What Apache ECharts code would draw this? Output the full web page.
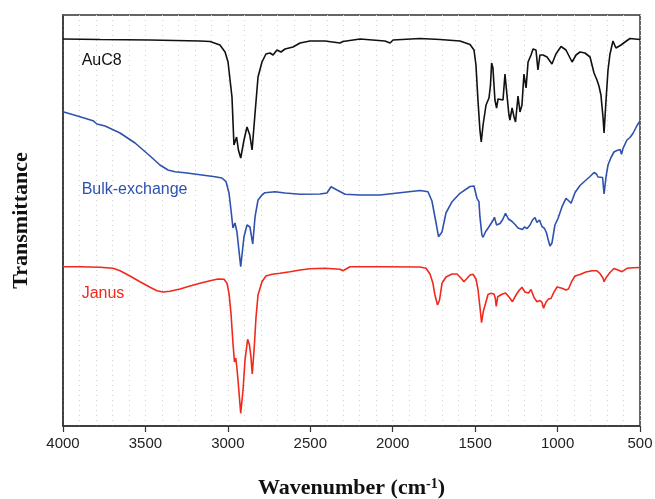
<!DOCTYPE html>
<html>
<head>
<meta charset="utf-8">
<script src="https://cdn.jsdelivr.net/npm/echarts@6/dist/echarts.min.js"></script>
<style>
  html, body { margin: 0; padding: 0; background: #fff; }
  #chart { width: 655px; height: 499px; }
</style>
</head>
<body>
<div id="chart"></div>
<script>
// IR spectra, transmittance in arbitrary offset units (curves stacked)
const xTicks = [4000, 3500, 3000, 2500, 2000, 1500, 1000, 500];

const auc8Wn = [4000, 3776, 3472, 3169, 3108, 3048, 3017, 2999, 2975, 2963, 2947, 2936, 2922, 2902, 2884, 2867, 2853, 2835, 2817, 2793, 2769, 2744, 2726, 2702, 2678, 2653, 2605, 2562, 2502, 2411, 2320, 2302, 2198, 2047, 2016, 1998, 1834, 1713, 1592, 1531, 1507, 1495, 1483, 1471, 1463, 1452, 1434, 1416, 1407, 1400, 1392, 1380, 1370, 1361, 1349, 1331, 1319, 1307, 1295, 1289, 1276, 1264, 1255, 1240, 1228, 1216, 1204, 1191, 1179, 1161, 1149, 1131, 1119, 1107, 1088, 1064, 1034, 1010, 979, 949, 912, 888, 864, 834, 803, 779, 761, 749, 737, 724, 718, 706, 694, 682, 664, 646, 634, 615, 591, 561, 500];
const auc8T = [387, 386.5, 386, 385, 384.5, 381, 374, 364, 329, 281, 289, 276, 268, 286, 299, 291, 276, 313, 349, 364, 372, 373, 371, 376, 374, 377, 379, 383, 385, 385, 383, 384.5, 387, 385, 383, 386, 387.5, 386.5, 385, 381.5, 376, 361, 326, 296, 284, 301, 321, 328, 341, 363, 358, 326, 318, 327, 329, 326, 352, 331, 311, 306, 318, 309, 304, 330, 314, 321, 352, 338, 364, 371, 377, 376, 356, 371, 371, 369, 362, 372, 379.5, 376, 364, 371, 374, 373, 369, 353, 346, 340, 331, 308, 293, 326, 356, 372, 385, 378, 376, 381, 384, 387.5, 386.5];

const bulkWn = [4000, 3897, 3818, 3794, 3745, 3654, 3563, 3472, 3412, 3363, 3321, 3260, 3169, 3078, 3036, 3011, 2993, 2981, 2969, 2957, 2945, 2933, 2922, 2911, 2902, 2884, 2866, 2849, 2835, 2817, 2793, 2775, 2714, 2653, 2562, 2441, 2399, 2374, 2362, 2338, 2289, 2198, 2077, 1956, 1834, 1786, 1762, 1737, 1722, 1713, 1701, 1677, 1640, 1592, 1531, 1507, 1495, 1489, 1477, 1471, 1459, 1452, 1437, 1422, 1410, 1392, 1383, 1370, 1349, 1331, 1316, 1298, 1276, 1258, 1240, 1228, 1213, 1201, 1185, 1167, 1152, 1137, 1125, 1110, 1094, 1079, 1067, 1058, 1046, 1034, 1016, 997, 973, 949, 931, 918, 894, 864, 834, 803, 779, 764, 755, 743, 727, 718, 706, 694, 676, 658, 640, 621, 612, 603, 579, 561, 543, 531, 518, 500];
const bulkT = [314.3, 309.3, 305.3, 302, 300, 293, 283, 270, 261, 256, 254.3, 253.3, 251.3, 249.3, 248, 244.3, 233, 216, 198, 203, 194.3, 176, 159.3, 176, 189.3, 201, 199, 182, 209.3, 226, 231, 233.3, 234.3, 233, 231.7, 232, 233, 239.3, 238, 236, 231.7, 231, 231, 233.3, 235.5, 234.3, 225, 203, 189.3, 187.7, 194, 213, 224.3, 232.7, 239.5, 240, 238, 227.7, 224.3, 209.3, 191, 188.7, 194.3, 197.7, 196, 205.5, 208.7, 201, 202.5, 207, 212.7, 207, 204.5, 201.5, 198, 200, 196.5, 199, 197.5, 201, 206, 208.5, 203.5, 206, 199.3, 197.5, 193, 187, 180, 183, 201, 207.7, 219.3, 227.7, 225, 222.7, 233.5, 240.5, 245, 249.5, 253.5, 252, 249, 247, 248.5, 232, 249.3, 261, 268.5, 274, 275.5, 276.5, 271.7, 277.7, 286, 288.5, 292.5, 290.5, 300.5, 305];

const janusWn = [4000, 3897, 3776, 3697, 3654, 3594, 3533, 3472, 3430, 3393, 3351, 3290, 3230, 3169, 3108, 3060, 3023, 3005, 2993, 2981, 2969, 2960, 2952, 2945, 2936, 2922, 2908, 2896, 2880, 2869, 2860, 2852, 2841, 2829, 2817, 2793, 2769, 2732, 2684, 2623, 2562, 2502, 2411, 2320, 2302, 2259, 2077, 1834, 1798, 1774, 1756, 1744, 1728, 1716, 1701, 1677, 1640, 1610, 1586, 1568, 1549, 1531, 1513, 1495, 1483, 1471, 1461, 1450, 1434, 1422, 1404, 1386, 1378, 1372, 1363, 1337, 1316, 1292, 1274, 1252, 1234, 1216, 1198, 1176, 1161, 1143, 1125, 1107, 1094, 1085, 1070, 1055, 1040, 1022, 1003, 973, 949, 934, 915, 894, 864, 828, 791, 761, 743, 724, 718, 703, 682, 658, 634, 609, 579, 543, 500];
const janusT = [159.3, 159.3, 158.7, 157.7, 155.3, 150, 144.3, 138.7, 135.3, 134, 134.7, 137, 140, 142.7, 145.3, 147, 146.7, 142.7, 132.7, 112.7, 82.7, 64, 68, 58, 41, 12.7, 36, 66, 86.7, 81, 69.3, 52, 76, 109.3, 131, 144.3, 150, 151.7, 152.7, 154.3, 156, 157.3, 157.7, 156.7, 155.3, 159.3, 159.3, 159, 157.7, 152, 142.7, 131, 121, 126, 142.7, 149, 152, 152, 148, 144.3, 147.7, 151, 151.7, 147, 137, 119, 103.3, 115, 124.3, 131.5, 132.7, 132, 128, 119.5, 129.3, 131.8, 133, 128.5, 124.3, 131, 135.5, 138.7, 134, 133, 136.5, 128.5, 124.3, 125.5, 123.5, 117.7, 124, 127, 127.5, 133.8, 139, 137.7, 136, 137, 144.3, 150, 151.5, 154, 155.3, 155.2, 152.5, 147.7, 144.3, 149, 153.5, 157.5, 156, 154.3, 157.7, 158.3, 158.5];

const seriesNames = ["AuC8", "Bulk-exchange", "Janus"];
const seriesColors = ["#111111", "#2f52b0", "#f2281c"];
// label anchor (wavenumber, value) for each curve's name
const labelWn = [3890, 3890, 3890];
const labelT = [365, 236, 132];

function pairs(wn, t) {
  return wn.map((w, i) => [w, t[i]]);
}

const chart = echarts.init(document.getElementById("chart"));

const allData = [pairs(auc8Wn, auc8T), pairs(bulkWn, bulkT), pairs(janusWn, janusT)];
const serif = "Liberation Serif, Times New Roman, serif";

const option = {
  animation: false,
  backgroundColor: "#fff",
  grid: {
    left: 63,
    right: 15,
    top: 15,
    bottom: 73,
    outerBoundsMode: "none",
    show: true,
    borderColor: "#333",
    borderWidth: 1.5,
    backgroundColor: "transparent",
  },
  xAxis: {
    type: "value",
    inverse: true,
    min: 500,
    max: 4000,
    interval: 500,
    axisLine: { show: true, onZero: false, lineStyle: { color: "#333", width: 1.5 } },
    axisTick: { show: true, inside: false, length: 6, lineStyle: { color: "#333", width: 1.2 } },
    axisLabel: {
      color: "#222",
      fontSize: 15,
      fontFamily: "Liberation Sans, Arial, sans-serif",
      margin: 10,
      formatter: (v) => (xTicks.includes(v) ? String(v) : ""),
    },
    splitLine: { show: true, lineStyle: { color: "#d2d2d2", type: [1, 4], width: 1 } },
    minorTick: { show: false, splitNumber: 5 },
    minorSplitLine: { show: true, lineStyle: { color: "#d2d2d2", type: [1, 4], width: 1 } },
    name: "{a|Wavenumber (cm}{s|-1}{a|)}",
    nameLocation: "middle",
    nameGap: 51,
    nameTextStyle: {
      rich: {
        a: { fontSize: 22, fontWeight: "bold", fontFamily: serif, color: "#111" },
        s: { fontSize: 14, fontWeight: "bold", fontFamily: serif, color: "#111", verticalAlign: "top" },
      },
    },
  },
  yAxis: {
    type: "value",
    min: 0,
    max: 411,
    axisLine: { show: true, lineStyle: { color: "#333", width: 1.5 } },
    axisTick: { show: false },
    axisLabel: { show: false },
    splitLine: { show: false },
    name: "Transmittance",
    nameLocation: "middle",
    nameGap: 31,
    nameTextStyle: {
      fontSize: 22,
      fontWeight: "bold",
      fontFamily: serif,
      color: "#111",
    },
  },
  series: seriesNames.map((name, i) => ({
    name: name,
    type: "line",
    data: allData[i],
    showSymbol: false,
    symbol: "none",
    smooth: false,
    lineStyle: { color: seriesColors[i], width: 1.6 },
    markPoint: {
      symbol: "rect",
      symbolSize: 1,
      itemStyle: { color: "transparent" },
      label: {
        show: true,
        position: "right",
        distance: 0,
        formatter: name,
        color: seriesColors[i],
        fontSize: 16,
        fontFamily: "Liberation Sans, Arial, sans-serif",
      },
      data: [{ coord: [labelWn[i], labelT[i]] }],
    },
  })),
};

chart.setOption(option);
</script>
</body>
</html>
